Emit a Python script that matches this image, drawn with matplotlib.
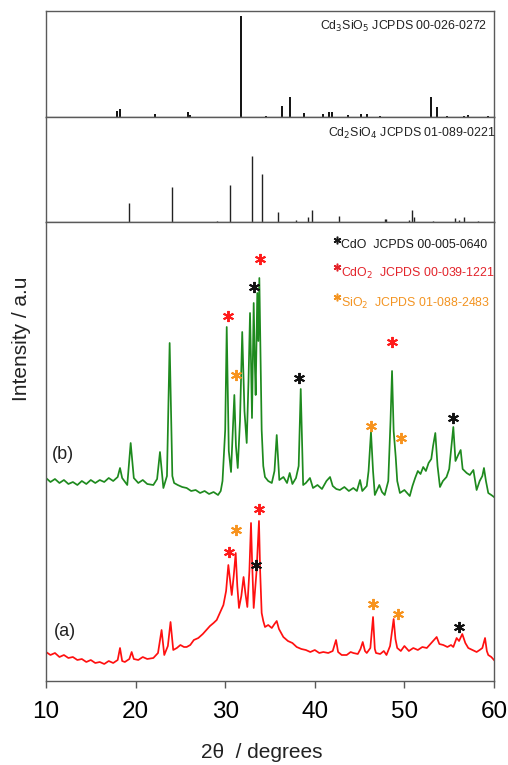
import matplotlib
matplotlib.use("Agg")
import matplotlib.pyplot as plt
import numpy as np

plt.rcParams['font.family'] = ['Liberation Sans', 'DejaVu Sans']

# ---- Reference stick patterns ----
cd3sio5_pos = [17.9, 18.3, 22.2, 25.8, 26.1, 31.8, 34.5, 36.3, 37.2, 38.8, 40.9, 41.6, 41.9,
               43.7, 45.2, 45.8, 47.3, 53.0, 53.6, 54.8, 56.6, 57.1, 59.3]
cd3sio5_int = [6, 8, 3, 5, 2, 100, 1, 11, 20, 4, 3, 5, 5, 2, 3, 3, 1, 20, 10, 1, 1, 2, 1]

cd2sio4_pos = [19.3, 24.1, 29.05, 30.5, 33.0, 34.1, 35.9, 37.9, 39.2, 39.7, 42.7, 47.8, 48.0,
               50.5, 50.9, 51.1, 53.2, 55.7, 56.1, 56.6, 58.2]
cd2sio4_int = [29, 53, 1, 57, 100, 73, 16, 3, 7, 19, 9, 5, 5, 3, 18, 8, 2, 6, 3, 8, 1]

# ---- Measured patterns ----
b_x = [10.0, 10.5, 11.0, 11.5, 12.0, 12.5, 13.0, 13.5, 14.0, 14.5, 15.0, 15.5, 16.0, 16.5, 17.0,
       17.5, 18.0, 18.26, 18.5, 19.07, 19.45, 19.8, 20.3, 20.8, 21.3, 21.98, 22.4, 22.72, 23.1,
       23.5, 23.8, 24.1, 24.3, 24.7, 25.2, 25.7, 26.2, 26.7, 27.2, 27.7, 28.2, 28.7, 29.2, 29.5,
       29.7, 30.0, 30.17, 30.4, 30.65, 30.85, 31.02, 31.2, 31.4, 31.65, 31.9, 32.15, 32.4, 32.6,
       32.77, 32.88, 32.99, 33.18, 33.3, 33.4, 33.58, 33.7, 33.81, 33.95, 34.07, 34.25, 34.44,
       34.8, 35.2, 35.5, 35.75, 36.04, 36.5, 36.9, 37.2, 37.5, 37.9, 38.2, 38.43, 38.7, 39.0,
       39.46, 39.8, 40.3, 40.8, 41.3, 41.7, 42.0, 42.4, 42.8, 43.3, 43.8, 44.3, 44.7, 45.05,
       45.3, 45.8, 46.0, 46.27, 46.5, 46.7, 47.0, 47.2, 47.5, 47.8, 48.2, 48.45, 48.62, 48.8,
       49.03, 49.2, 49.5, 50.0, 50.6, 50.9, 51.2, 51.5, 51.8, 52.1, 52.4, 52.7, 53.0, 53.2,
       53.45, 53.7, 53.97, 54.3, 54.7, 55.0, 55.2, 55.46, 55.7, 56.0, 56.28, 56.5, 56.95, 57.3,
       57.7, 58.06, 58.4, 58.7, 58.88, 59.1, 59.36, 59.7, 60.0]
b_y = [203, 199, 202, 198, 201, 197, 199, 196, 200, 197, 201, 198, 201, 199, 203,
       200, 204, 213, 203, 196, 238, 203, 198, 201, 197, 196, 202, 229, 193,
       205, 338, 205, 198, 196, 194, 193, 190, 191, 188, 190, 187, 189, 186, 190,
       200, 251, 354, 230, 209, 250, 286, 235, 213, 260, 349, 270, 238, 300,
       368, 320, 263, 378, 320, 286, 388, 340, 403, 320, 251, 215, 204,
       200, 198, 210, 246, 201, 204, 198, 208, 197, 203, 215, 292, 196, 198,
       203, 193, 196, 192, 200, 204, 195, 192, 191, 194, 190, 193, 190, 201,
       190, 195, 210, 249, 210, 186, 192, 196, 189, 186, 200, 260, 310, 250,
       224, 200, 188, 191, 185, 195, 203, 210, 207, 214, 210, 218, 222, 235,
       248, 215, 194, 200, 204, 212, 230, 254, 220, 226, 231, 212, 208, 206,
       211, 191, 200, 205, 213, 200, 188, 186, 184]

a_x = [10.0, 10.5, 11.0, 11.5, 12.0, 12.5, 13.0, 13.5, 14.0, 14.5, 15.0, 15.5, 16.0, 16.5, 17.0,
       17.5, 18.0, 18.26, 18.5, 18.8, 19.3, 19.56, 19.8, 20.3, 20.8, 21.3, 21.98, 22.5, 22.9,
       23.2, 23.6, 23.9, 24.2, 24.6, 25.0, 25.4, 25.7, 26.1, 26.5, 27.0, 27.5, 27.9, 28.3, 28.7,
       29.05, 29.4, 29.8, 30.1, 30.35, 30.55, 30.73, 30.95, 31.17, 31.35, 31.54, 31.8, 32.05,
       32.25, 32.47, 32.7, 32.88, 33.0, 33.18, 33.5, 33.77, 33.9, 34.07, 34.25, 34.44, 34.8,
       35.2, 35.5, 35.75, 36.0, 36.49, 37.0, 37.5, 37.98, 38.5, 39.0, 39.5, 40.0, 40.5, 40.95,
       41.5, 42.0, 42.37, 42.6, 43.0, 43.56, 44.0, 44.3, 44.8, 45.1, 45.35, 45.6, 45.8, 46.2,
       46.5, 46.7, 46.83, 47.3, 47.7, 48.0, 48.4, 48.8, 49.0, 49.2, 49.6, 50.0, 50.5, 50.99,
       51.5, 52.0, 52.5, 53.0, 53.3, 53.6, 53.9, 54.34, 54.8, 55.2, 55.46, 55.83, 56.1, 56.46,
       56.8, 57.13, 57.6, 58.06, 58.4, 58.7, 59.0, 59.2, 59.36, 59.7, 60.0]
a_y = [29, 26, 28, 24, 26, 23, 24, 21, 22, 19, 21, 18, 19, 17, 20,
       18, 21, 33, 20, 19, 22, 29, 22, 21, 24, 22, 23, 28, 51,
       26, 35, 59, 31, 33, 36, 34, 34, 36, 41, 43, 47, 51, 55, 58,
       61, 68, 76, 90, 116, 100, 86, 105, 128, 95, 73, 85, 104,
       88, 74, 110, 158, 120, 73, 110, 160, 110, 68, 60, 54, 56,
       53, 57, 60, 52, 44, 40, 38, 34, 32, 31, 29, 31, 28, 29,
       28, 30, 41, 29, 26, 26, 29, 28, 27, 32, 39, 30, 28, 33,
       64, 32, 28, 27, 30, 26, 35, 62, 42, 33, 30, 35, 30, 33,
       31, 34, 33, 38, 41, 44, 37, 36, 34, 36, 34, 43, 40, 47,
       38, 33, 31, 29, 31, 33, 43, 30, 26, 24, 21]

# asterisk markers (x, y, colour key)
b_star_x = [30.35, 31.17, 33.18, 33.85, 38.27, 46.27, 48.65, 49.58, 55.46]
b_star_y = [365, 306, 394, 422, 303, 255, 339, 243, 263]
b_star_c = ['CdO2', 'SiO2', 'CdO', 'CdO2', 'CdO', 'SiO2', 'CdO2', 'SiO2', 'CdO']
a_star_x = [30.42, 31.2, 33.77, 33.4, 46.5, 49.29, 56.13]
a_star_y = [129, 151, 172, 116, 77, 67, 54]
a_star_c = ['CdO2', 'SiO2', 'CdO2', 'CdO', 'SiO2', 'SiO2', 'CdO']

phase_names = ['CdO', 'CdO2', 'SiO2']
phase_labels = ['CdO  JCPDS 00-005-0640', 'CdO$_2$  JCPDS 00-039-1221', 'SiO$_2$  JCPDS 01-088-2483']
phase_colors = {'CdO': '#111111', 'CdO2': '#ff1a1a', 'SiO2': '#f7931e'}
phase_text_colors = {'CdO': '#1a1a1a', 'CdO2': '#e3242b', 'SiO2': '#f39422'}

xticks = [10, 20, 30, 40, 50, 60]

W, H = 508, 765
fig = plt.figure(figsize=(W / 100, H / 100), dpi=100)

def fx(px):
    return px / W

def fy(py):
    return 1 - py / H

L, R = 46, 494
spine_c = '#5a5a5a'

ax1 = fig.add_axes([fx(L), fy(117), fx(R - L), (117 - 11) / H])
ax2 = fig.add_axes([fx(L), fy(222), fx(R - L), (222 - 117) / H])
ax3 = fig.add_axes([fx(L), fy(681), fx(R - L), (681 - 222) / H])

for ax in (ax1, ax2, ax3):
    ax.set_xlim(10, 60)
    for s in ax.spines.values():
        s.set_color(spine_c)
        s.set_linewidth(1.0)
    ax.set_yticks([])

for ax in (ax1, ax2):
    ax.set_xticks([])

ax1.set_ylim(0, 105)
ax1.vlines(cd3sio5_pos, 0, cd3sio5_int, color='#111111', linewidth=1.4)
ax1.text(59.2, 90, 'Cd$_3$SiO$_5$ JCPDS 00-026-0272', ha='right', va='center',
         fontsize=8.9, color='#222222')

ax2.set_ylim(0, 160)
ax2.vlines(cd2sio4_pos, 0, cd2sio4_int, color='#222222', linewidth=1.0)
ax2.text(60.2, 135, 'Cd$_2$SiO$_4$ JCPDS 01-089-0221', ha='right', va='center',
         fontsize=8.9, color='#222222', clip_on=False)

ax3.set_ylim(0, 459)
ax3.plot(b_x, b_y, color='#1e8a1e', linewidth=1.25)
ax3.plot(a_x, a_y, color='#ff1010', linewidth=1.25)

for xs, ys, cs in ((b_star_x, b_star_y, b_star_c), (a_star_x, a_star_y, a_star_c)):
    for x, y, c in zip(xs, ys, cs):
        ax3.plot([x], [y], linestyle='none', marker=(6, 2, 0), markersize=8,
                 markeredgewidth=1.4, color=phase_colors[c])

leg_y = [436, 408, 378]
leg_star_y = [441, 414, 384]
for name, lab, ty, sy in zip(phase_names, phase_labels, leg_y, leg_star_y):
    ax3.plot([42.45], [sy], linestyle='none', marker=(6, 2, 0), markersize=5.5,
             markeredgewidth=1.1, color=phase_text_colors[name])
    ax3.text(42.9, ty, lab, ha='left', va='center', fontsize=8.9,
             color=phase_text_colors[name])

ax3.text(11.9, 226, '(b)', ha='center', va='center', fontsize=13, color='#222222')
ax3.text(12.1, 50, '(a)', ha='center', va='center', fontsize=13, color='#222222')

ax3.set_xticks(xticks)
ax3.set_xticklabels([str(t) for t in xticks])
ax3.tick_params(axis='x', direction='out', length=5, width=1, color=spine_c,
                labelsize=17.5, pad=9.5)

fig.text(fx(21.7), fy(339), 'Intensity / a.u', rotation=90, ha='center', va='center',
         fontsize=15, color='#222222')
fig.text(fx(262), fy(752), '2\u03b8  / degrees', ha='center', va='center',
         fontsize=15, color='#222222')

fig.savefig('out.png', dpi=100)
